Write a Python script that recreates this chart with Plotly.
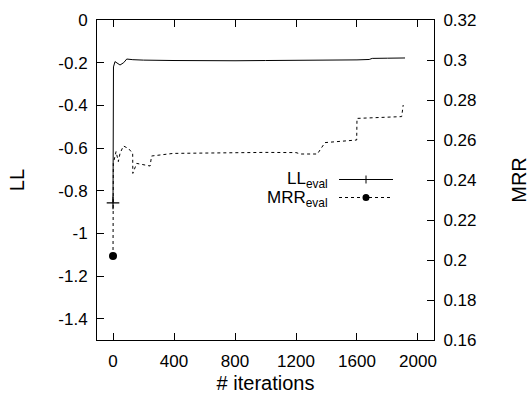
import plotly.graph_objects as go

# ---- data ----
ll_iters = [0, 3, 13, 30, 46, 70, 90, 130, 200, 400, 600, 800, 1000, 1200, 1400, 1600, 1680, 1700, 1800, 1915]
ll_values = [-0.857, -0.22, -0.195, -0.205, -0.211, -0.2, -0.183, -0.186, -0.188, -0.19, -0.192,
             -0.191, -0.19, -0.19, -0.188, -0.187, -0.185, -0.18, -0.179, -0.178]

mrr_iters = [0, 2, 20, 35, 46, 68, 101, 122, 129, 130, 155, 243, 253, 395, 600, 800, 1000, 1200,
             1230, 1340, 1357, 1390, 1598, 1600, 1893, 1903]
mrr_values = [0.202, 0.2483, 0.2542, 0.2492, 0.2533, 0.257, 0.2558, 0.254, 0.2533, 0.2433, 0.2483,
              0.247, 0.252, 0.2533, 0.2535, 0.2535, 0.2538, 0.2537, 0.253, 0.253, 0.255, 0.2587,
              0.26, 0.2708, 0.2717, 0.2775]

x_ticks = [0, 400, 800, 1200, 1600, 2000]
ll_ticks = [0, -0.2, -0.4, -0.6, -0.8, -1, -1.2, -1.4]
mrr_ticks = [0.16, 0.18, 0.2, 0.22, 0.24, 0.26, 0.28, 0.3, 0.32]

FONT = "Liberation Sans"
FS = 17

fig = go.Figure()
fig.add_trace(go.Scatter(
    x=ll_iters, y=ll_values, mode="lines", name="LL",
    line=dict(color="black", width=1), yaxis="y", showlegend=False))
fig.add_trace(go.Scatter(
    x=ll_iters[:1], y=ll_values[:1], mode="markers", name="LL start",
    marker=dict(symbol="cross-thin", size=9, line=dict(color="black", width=1.2), color="black"),
    yaxis="y", showlegend=False))
fig.add_trace(go.Scatter(
    x=mrr_iters, y=mrr_values, mode="lines", name="MRR",
    line=dict(color="black", width=1, dash="3px,3px"), yaxis="y2", showlegend=False))
fig.add_trace(go.Scatter(
    x=mrr_iters[:1], y=mrr_values[:1], mode="markers", name="MRR start",
    marker=dict(symbol="circle", size=8, color="black", line=dict(width=0)),
    yaxis="y2", showlegend=False))

# plot area in pixels: left 97, right 434, top 20, bottom 340
L, R, T, B = 97, 434, 20, 340
W, H = R - L, B - T
def px(x): return (x - L) / W
def py(y): return (B - y) / H

axis_common = dict(ticks="inside", ticklen=7, tickwidth=1, tickcolor="black",
                   showline=True, linecolor="black", linewidth=1, showgrid=False,
                   zeroline=False, automargin=False,
                   tickfont=dict(family=FONT, size=FS, color="black"))

fig.update_layout(
    width=532, height=394,
    margin=dict(l=L, r=532 - R, t=T, b=394 - B, autoexpand=False),
    paper_bgcolor="white", plot_bgcolor="white",
    font=dict(family=FONT, size=FS, color="black"),
    xaxis=dict(range=[-105, 2105], tickvals=x_ticks, mirror="ticks",
               title=dict(text="# iterations", standoff=9), ticklabelstandoff=6, **axis_common),
    yaxis=dict(range=[-1.5, 0], tickvals=ll_ticks, ticktext=[f"{v:g}" for v in ll_ticks],
               title=dict(text="LL", standoff=28), ticklabelstandoff=5, **axis_common),
    yaxis2=dict(range=[0.16, 0.32], tickvals=mrr_ticks, ticktext=[f"{v:g}" for v in mrr_ticks],
                overlaying="y", side="right",
                title=dict(text="MRR", standoff=36), ticklabelstandoff=5, **axis_common),
)

# custom legend (text left, sample right)
legend_items = [("LL<sub>eval</sub>", 180, 179.5, "solid", "cross"),
                ("MRR<sub>eval</sub>", 198.5, 197.5, "3px,3px", "dot")]
for text, ytext, ypix, dash, mk in legend_items:
    fig.add_annotation(x=px(330), y=py(ytext), xref="paper", yref="paper", text=text,
                       showarrow=False, xanchor="right", yanchor="middle",
                       font=dict(family=FONT, size=FS, color="black"))
    fig.add_shape(type="line", xref="paper", yref="paper", x0=px(339), x1=px(393),
                  y0=py(ypix), y1=py(ypix), line=dict(color="black", width=1, dash=dash))
    if mk == "cross":
        fig.add_shape(type="line", xref="paper", yref="paper", x0=px(366), x1=px(366),
                      y0=py(ypix - 4), y1=py(ypix + 4), line=dict(color="black", width=1))
    else:
        fig.add_shape(type="circle", xref="paper", yref="paper", x0=px(362.5), x1=px(369.5),
                      y0=py(ypix - 3.5), y1=py(ypix + 3.5), fillcolor="black",
                      line=dict(color="black", width=0))

fig.write_html("out.html", config={"displayModeBar": False},
               post_script="document.body.style.margin='0';document.body.style.overflow='hidden';")
